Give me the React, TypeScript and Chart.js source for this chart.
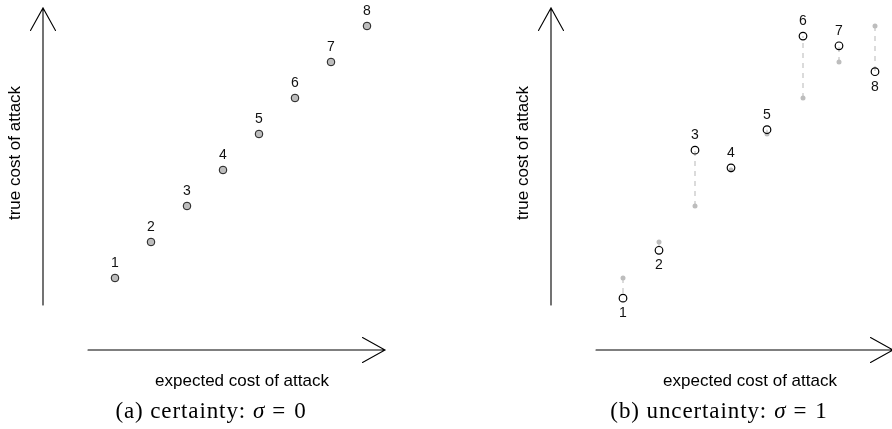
import React, { useEffect, useRef } from "react";
import { Chart, registerables } from "chart.js";

Chart.register(...registerables);

// Attackers ranked by expected cost of attack
const expectedCost = [1, 2, 3, 4, 5, 6, 7, 8];
const pointLabels = ["1", "2", "3", "4", "5", "6", "7", "8"];
// True cost when there is no uncertainty (sigma = 0)
const certainCost = [1, 2, 3, 4, 5, 6, 7, 8];
// True cost under uncertainty (sigma = 1)
const uncertainCost = [0.44, 1.77, 4.55, 4.06, 5.12, 7.72, 7.45, 6.73];

const AXIS_MIN = -1;
const AXIS_MAX = 8.5;
const ARROW_START = 0.25;

const W = 446;
const H = 429;

type CaptionPart = { text: string; italic?: boolean; gap?: number };

const drawArrowsAndText = {
  id: "decor",
  afterDatasetsDraw(chart: any, _args: any, opts: any) {
    const { ctx, chartArea, scales } = chart;
    const xs = scales.x;
    const ys = scales.y;
    ctx.save();

    // axis arrows
    ctx.strokeStyle = "#000";
    ctx.lineWidth = 1.1;
    ctx.lineCap = "round";
    const ax = chartArea.left;
    const yFrom = ys.getPixelForValue(ARROW_START);
    const yTo = ys.getPixelForValue(AXIS_MAX);
    ctx.beginPath();
    ctx.moveTo(ax, yFrom);
    ctx.lineTo(ax, yTo);
    ctx.moveTo(ax - 12.5, yTo + 22.5);
    ctx.lineTo(ax, yTo);
    ctx.lineTo(ax + 12.5, yTo + 22.5);
    ctx.stroke();

    const ay = chartArea.bottom;
    const xFrom = xs.getPixelForValue(ARROW_START);
    const xTo = xs.getPixelForValue(AXIS_MAX);
    ctx.beginPath();
    ctx.moveTo(xFrom, ay);
    ctx.lineTo(xTo, ay);
    ctx.moveTo(xTo - 22.5, ay - 12.5);
    ctx.lineTo(xTo, ay);
    ctx.lineTo(xTo - 22.5, ay + 12.5);
    ctx.stroke();

    // point numbers
    ctx.fillStyle = "#111";
    ctx.font = "14px 'Liberation Sans', Arial, sans-serif";
    ctx.textAlign = "center";
    ctx.textBaseline = "middle";
    const ys2: number[] = opts.labelValues;
    const above: boolean[] = opts.labelAbove;
    pointLabels.forEach((lab, i) => {
      const px = xs.getPixelForValue(expectedCost[i]);
      const py = ys.getPixelForValue(ys2[i]);
      ctx.fillText(lab, px, py + (above[i] ? -15 : 15));
    });

    // axis titles
    ctx.fillStyle = "#000";
    ctx.font = "17px 'Liberation Sans', Arial, sans-serif";
    ctx.fillText("expected cost of attack", chartArea.left + 199, chartArea.bottom + 31);
    ctx.save();
    ctx.translate(chartArea.left - 28, chartArea.top + 145);
    ctx.rotate(-Math.PI / 2);
    ctx.fillText("true cost of attack", 0, 0);
    ctx.restore();

    // caption
    const parts: CaptionPart[] = opts.caption;
    const fontFor = (p: CaptionPart) =>
      (p.italic ? "italic " : "") + "23px 'Liberation Serif', 'Times New Roman', serif";
    (ctx as any).letterSpacing = "0.9px";
    let total = 0;
    parts.forEach((p) => {
      ctx.font = fontFor(p);
      total += (p.gap || 0) + ctx.measureText(p.text).width;
    });
    let cx = chartArea.left + 168 - total / 2;
    ctx.textAlign = "left";
    ctx.textBaseline = "alphabetic";
    parts.forEach((p) => {
      ctx.font = fontFor(p);
      cx += p.gap || 0;
      ctx.fillText(p.text, cx, chartArea.bottom + 68);
      cx += ctx.measureText(p.text).width;
    });
    (ctx as any).letterSpacing = "0px";

    ctx.restore();
  },
};

function baseOptions(labelValues: number[], labelAbove: boolean[], caption: CaptionPart[]) {
  return {
    responsive: false,
    animation: false as const,
    layout: { padding: { left: 43, top: 8, right: W - 385, bottom: H - 350 } },
    scales: {
      x: { type: "linear" as const, min: AXIS_MIN, max: AXIS_MAX, display: false },
      y: { type: "linear" as const, min: AXIS_MIN, max: AXIS_MAX, display: false },
    },
    plugins: {
      legend: { display: false },
      tooltip: { enabled: false },
      decor: { labelValues, labelAbove, caption },
    },
  };
}

function CertaintyPanel() {
  const ref = useRef<HTMLCanvasElement>(null);
  useEffect(() => {
    const chart = new Chart(ref.current!, {
      type: "scatter",
      data: {
        datasets: [
          {
            data: expectedCost.map((x, i) => ({ x, y: certainCost[i] })),
            pointRadius: 3.8,
            pointBackgroundColor: "#bdbdbd",
            pointBorderColor: "#1a1a1a",
            pointBorderWidth: 1,
          },
        ],
      },
      options: baseOptions(
        certainCost,
        certainCost.map(() => true),
        [{ text: "(a) certainty:" }, { text: "σ", italic: true, gap: 7 }, { text: "=", gap: 7 }, { text: "0", gap: 8 }]
      ) as any,
      plugins: [drawArrowsAndText],
    });
    return () => chart.destroy();
  }, []);
  return <canvas ref={ref} width={W} height={H} style={{ position: "absolute", left: 0, top: 0, width: W, height: H }} />;
}

function UncertaintyPanel() {
  const ref = useRef<HTMLCanvasElement>(null);
  useEffect(() => {
    const shifts = expectedCost.map((x, i) => ({
      type: "line" as const,
      data: [
        { x, y: certainCost[i] },
        { x, y: uncertainCost[i] },
      ],
      borderColor: "#b8b8b8",
      borderWidth: 1,
      borderDash: [5, 5],
      pointRadius: 0,
      order: 3,
    }));
    const chart = new Chart(ref.current!, {
      type: "scatter",
      data: {
        datasets: [
          {
            data: expectedCost.map((x, i) => ({ x, y: uncertainCost[i] })),
            pointRadius: 3.8,
            pointBackgroundColor: "rgba(0,0,0,0)",
            pointBorderColor: "#000",
            pointBorderWidth: 1.2,
            order: 1,
          },
          {
            data: expectedCost.map((x, i) => ({ x, y: certainCost[i] })),
            pointRadius: 2.5,
            pointBackgroundColor: "#bdbdbd",
            pointBorderWidth: 0,
            order: 2,
          },
          ...shifts,
        ] as any,
      },
      options: baseOptions(
        uncertainCost,
        uncertainCost.map((v, i) => v > certainCost[i]),
        [{ text: "(b) uncertainty:" }, { text: "σ", italic: true, gap: 7 }, { text: "=", gap: 7 }, { text: "1", gap: 8 }]
      ) as any,
      plugins: [drawArrowsAndText],
    });
    return () => chart.destroy();
  }, []);
  return <canvas ref={ref} width={W} height={H} style={{ position: "absolute", left: 508, top: 0, width: W, height: H }} />;
}

export default function App() {
  return (
    <div
      style={{
        position: "fixed",
        left: 0,
        top: 0,
        width: 892,
        height: 429,
        overflow: "hidden",
        background: "#fff",
      }}
    >
      <CertaintyPanel />
      <UncertaintyPanel />
    </div>
  );
}
